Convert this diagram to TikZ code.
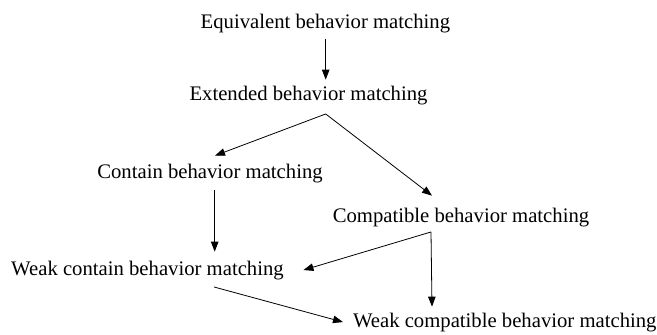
\documentclass[tikz,border=0pt]{standalone}
\usepackage{fontspec}
\setmainfont{Liberation Serif}
\usetikzlibrary{arrows.meta,calc}

\tikzset{
  lbl/.style={inner sep=0pt, outer sep=0pt, anchor=base, font=\fontsize{20.7}{24}\selectfont},
  arr/.style={-{Triangle[length=10pt,width=7.5pt]}, line width=0.8pt, black}
}

\begin{document}
\begin{tikzpicture}[x=1pt,y=1pt]
  \useasboundingbox (0,0) rectangle (657,-335);

  % matching relations
  \node[lbl] (eq)    at (325.4,-28)  {Equivalent behavior matching};
  \node[lbl] (ext)   at (308.5,-100) {Extended behavior matching};
  \node[lbl] (con)   at (210,-178)   {Contain behavior matching};
  \node[lbl] (comp)  at (461,-222)   {Compatible behavior matching};
  \node[lbl] (wcon)  at (147.5,-275) {Weak contain behavior matching};
  \node[lbl, anchor=base west] (wcomp) at (353,-327) {Weak compatible behavior matching};

  % branching points
  \coordinate (f1) at ($(ext.south)+(17.2,-9.5)$);
  \coordinate (c1) at ($(con.south)+(4.7,-7.5)$);
  \coordinate (f2) at ($(comp.south)+(-30,-5.5)$);
  \coordinate (w1) at ($(wcon.south)+(66.5,-7.5)$);

  % refinement arrows
  \draw[arr] ($(eq.south)+(0.3,-6.5)$) -- ($(eq.south |- ext.north)+(0.3,6)$);
  \draw[arr] (f1) -- ($(con.north)+(5,8)$);
  \draw[arr] (f1) -- ($(comp.north)+(-29,12)$);
  \draw[arr] (c1) -- ($(c1 |- wcon.north)+(0,9)$);
  \draw[arr] (f2) -- ($(wcon.east)+(19.7,0)$);
  \draw[arr] (f2) -- ($(f2 |- wcomp.north)+(1,6)$);
  \draw[arr] (w1) -- ($(wcomp.west)+(-10,0)$);
\end{tikzpicture}
\end{document}
